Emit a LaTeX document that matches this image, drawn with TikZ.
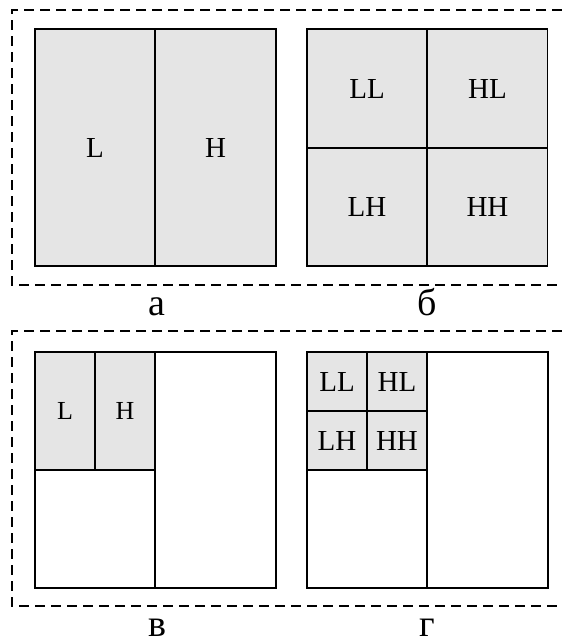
\documentclass[tikz,border=0pt]{standalone}
\usepackage{fontspec}
\setmainfont{Liberation Serif}

\begin{document}
\begin{tikzpicture}[x=1pt,y=-1pt,
    feld/.style={draw,line width=1.6pt,fill=gray!20,inner sep=0pt,font=\fontsize{29}{29}\selectfont},
    leer/.style={draw,line width=1.6pt,inner sep=0pt},
    rahmen/.style={line width=1.8pt,dash pattern=on 10pt off 6pt},
    titel/.style={anchor=base,font=\fontsize{38}{38}\selectfont}]
  \useasboundingbox (0,0) rectangle (562,641);

  %Rahmen oben und unten
  \draw[rahmen] (562,10) -- (12,10) -- (12,285) -- (562,285);
  \draw[rahmen] (562,331) -- (12,331) -- (12,606) -- (562,606);

  %a
  \node[feld,minimum width=120pt,minimum height=237pt] (aL) at (95,147.5) {L};
  \node[feld,minimum width=121pt,minimum height=237pt] (aH) at (215.5,147.5) {H};
  \node[titel] (ta) at (157,315) {а};

  %b
  \foreach \name/\x/\y in {LL/367/88.5, HL/487.5/88.5, LH/367/207, HH/487.5/207}
    \node[feld,minimum width=120pt,minimum height=118.5pt] (b\name) at (\x,\y) {\name};
  \node[titel] (tb) at (427,315) {б};

  %v
  \node[feld,minimum width=60pt,minimum height=118pt,font=\fontsize{26}{26}\selectfont] (vL) at (65,411) {L};
  \node[feld,minimum width=60pt,minimum height=118pt,font=\fontsize{26}{26}\selectfont] (vH) at (125,411) {H};
  \node[leer,minimum width=120pt,minimum height=118pt] (vU) at (95,529) {};
  \node[leer,minimum width=121pt,minimum height=236pt] (vR) at (215.5,470) {};
  \node[titel] (tv) at (157,636) {в};

  %g
  \foreach \name/\x/\y in {LL/337/381.5, HL/397/381.5, LH/337/440.5, HH/397/440.5}
    \node[feld,minimum width=60pt,minimum height=59pt] (g\name) at (\x,\y) {\name};
  \node[leer,minimum width=120pt,minimum height=118pt] (gU) at (367,529) {};
  \node[leer,minimum width=121pt,minimum height=236pt] (gR) at (487.5,470) {};
  \node[titel] (tg) at (427,636) {г};
\end{tikzpicture}
\end{document}
